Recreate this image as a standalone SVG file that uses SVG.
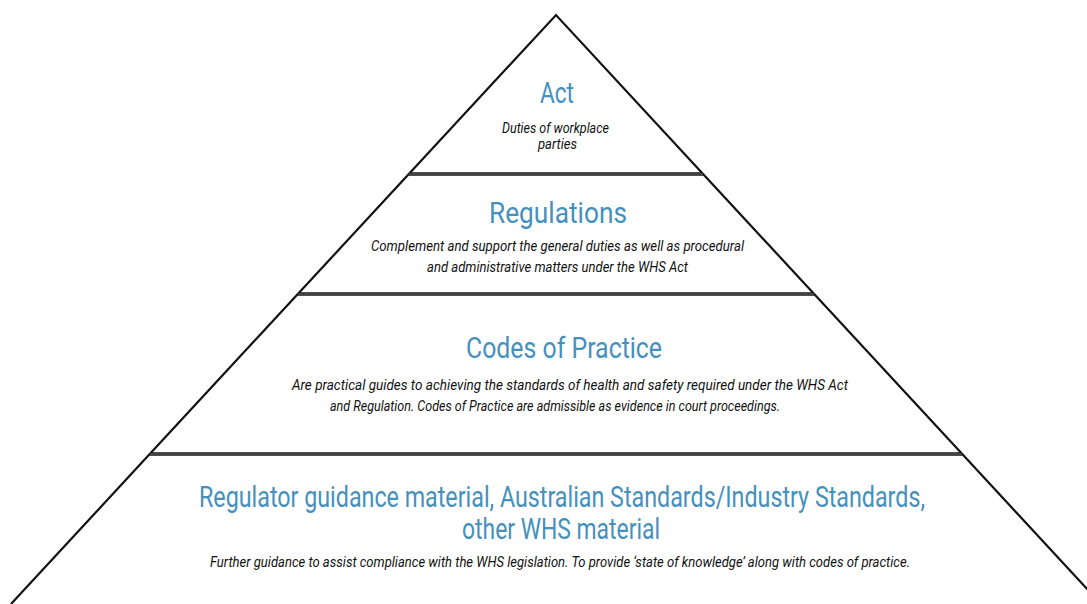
<svg xmlns="http://www.w3.org/2000/svg" width="1087" height="604" viewBox="0 0 1087 604">
<style>
.edge{fill:none;stroke:#111;stroke-width:2.2;stroke-linejoin:miter}
.sep{stroke:#161616;stroke-width:3.4}
.sepc{stroke:#6e6e6e;stroke-width:1}
.title{font-family:Roboto,"Open Sans","Liberation Sans",sans-serif;font-size:29px;font-weight:400;fill:#4590bc;text-anchor:start}
.body{font-family:Roboto,"Open Sans","Liberation Sans",sans-serif;font-style:italic;font-weight:400;font-size:14px;fill:#111;text-anchor:start}
</style>
<rect x="0" y="0" width="1087" height="604" fill="#ffffff"/>
<g id="pyramid-outline">
<polyline class="edge" points="11,604 556,15 1101,604"/>
</g>
<g id="separators">
<line class="sep" x1="409" y1="174" x2="703" y2="174"/>
<line class="sepc" x1="409" y1="174" x2="703" y2="174"/>
<line class="sep" x1="298" y1="294" x2="814" y2="294"/>
<line class="sepc" x1="298" y1="294" x2="814" y2="294"/>
<line class="sep" x1="150" y1="454" x2="962" y2="454"/>
<line class="sepc" x1="150" y1="454" x2="962" y2="454"/>
</g>
<g id="act">
<text class="title" x="540" y="103" textLength="34" lengthAdjust="spacingAndGlyphs">Act</text>
<text class="body" x="502" y="133" textLength="107" lengthAdjust="spacingAndGlyphs">Duties of workplace</text>
<text class="body" x="538" y="149" textLength="39" lengthAdjust="spacingAndGlyphs">parties</text>
</g>
<g id="regulations">
<text class="title" x="489" y="223" textLength="138" lengthAdjust="spacingAndGlyphs">Regulations</text>
<text class="body" x="371" y="251" textLength="373" lengthAdjust="spacingAndGlyphs">Complement and support the general duties as well as procedural</text>
<text class="body" x="427" y="272" textLength="261" lengthAdjust="spacingAndGlyphs">and administrative matters under the WHS Act</text>
</g>
<g id="codes-of-practice">
<text class="title" x="466" y="358" textLength="196" lengthAdjust="spacingAndGlyphs">Codes of Practice</text>
<text class="body" x="292" y="390" textLength="556" lengthAdjust="spacingAndGlyphs">Are practical guides to achieving the standards of health and safety required under the WHS Act</text>
<text class="body" x="330" y="411" textLength="450" lengthAdjust="spacingAndGlyphs">and Regulation. Codes of Practice are admissible as evidence in court proceedings.</text>
</g>
<g id="guidance-material">
<text class="title" x="199" y="507" textLength="726" lengthAdjust="spacingAndGlyphs">Regulator guidance material, Australian Standards/Industry Standards,</text>
<text class="title" x="462" y="539" textLength="198" lengthAdjust="spacingAndGlyphs">other WHS material</text>
<text class="body" x="210" y="567" textLength="700" lengthAdjust="spacingAndGlyphs">Further guidance to assist compliance with the WHS legislation. To provide ‘state of knowledge’ along with codes of practice.</text>
</g>
</svg>
